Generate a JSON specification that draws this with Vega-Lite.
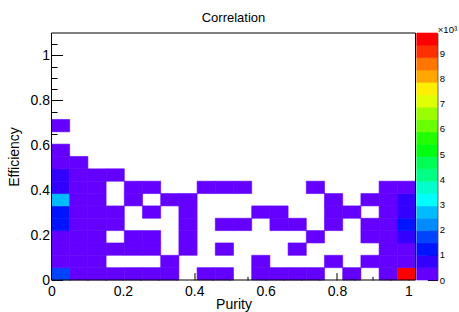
{
  "$schema": "https://vega.github.io/schema/vega-lite/v6.json",
  "width": 385.8,
  "height": 247,
  "autosize": {"type": "none"},
  "padding": {"left": 51.5, "top": 33, "right": 21.7, "bottom": 32},
  "background": "white",
  "config": {
    "view": {"stroke": null},
    "font": "Liberation Sans",
    "axis": {"labelFont": "Liberation Sans", "titleFont": "Liberation Sans", "labelColor": "black", "titleColor": "black", "tickColor": "black", "titleFontWeight": "normal", "grid": false}
  },
  "title": {"text": "Correlation", "font": "Liberation Sans", "fontSize": 13, "fontWeight": "normal", "color": "black", "anchor": "middle", "frame": "group", "dx": -10.9, "baseline": "alphabetic", "offset": -11},
  "datasets": {
    "cells": [
      {"p0": 0, "p1": 0.051, "e0": 0, "e1": 0.055, "n": 1700},
      {"p0": 0.051, "p1": 0.102, "e0": 0, "e1": 0.055, "n": 310},
      {"p0": 0.102, "p1": 0.153, "e0": 0, "e1": 0.055, "n": 180},
      {"p0": 0.153, "p1": 0.204, "e0": 0, "e1": 0.055, "n": 150},
      {"p0": 0.204, "p1": 0.255, "e0": 0, "e1": 0.055, "n": 120},
      {"p0": 0.255, "p1": 0.306, "e0": 0, "e1": 0.055, "n": 90},
      {"p0": 0.306, "p1": 0.357, "e0": 0, "e1": 0.055, "n": 60},
      {"p0": 0.408, "p1": 0.459, "e0": 0, "e1": 0.055, "n": 40},
      {"p0": 0.459, "p1": 0.51, "e0": 0, "e1": 0.055, "n": 30},
      {"p0": 0.561, "p1": 0.612, "e0": 0, "e1": 0.055, "n": 40},
      {"p0": 0.612, "p1": 0.663, "e0": 0, "e1": 0.055, "n": 60},
      {"p0": 0.663, "p1": 0.714, "e0": 0, "e1": 0.055, "n": 70},
      {"p0": 0.714, "p1": 0.765, "e0": 0, "e1": 0.055, "n": 60},
      {"p0": 0.816, "p1": 0.867, "e0": 0, "e1": 0.055, "n": 80},
      {"p0": 0.918, "p1": 0.969, "e0": 0, "e1": 0.055, "n": 220},
      {"p0": 0.969, "p1": 1.02, "e0": 0, "e1": 0.055, "n": 9805},

      {"p0": 0, "p1": 0.051, "e0": 0.055, "e1": 0.11, "n": 420},
      {"p0": 0.051, "p1": 0.102, "e0": 0.055, "e1": 0.11, "n": 260},
      {"p0": 0.102, "p1": 0.153, "e0": 0.055, "e1": 0.11, "n": 110},
      {"p0": 0.306, "p1": 0.357, "e0": 0.055, "e1": 0.11, "n": 30},
      {"p0": 0.561, "p1": 0.612, "e0": 0.055, "e1": 0.11, "n": 20},
      {"p0": 0.765, "p1": 0.816, "e0": 0.055, "e1": 0.11, "n": 30},
      {"p0": 0.867, "p1": 0.918, "e0": 0.055, "e1": 0.11, "n": 60},
      {"p0": 0.918, "p1": 0.969, "e0": 0.055, "e1": 0.11, "n": 150},
      {"p0": 0.969, "p1": 1.02, "e0": 0.055, "e1": 0.11, "n": 380},

      {"p0": 0, "p1": 0.051, "e0": 0.11, "e1": 0.165, "n": 400},
      {"p0": 0.051, "p1": 0.102, "e0": 0.11, "e1": 0.165, "n": 240},
      {"p0": 0.102, "p1": 0.153, "e0": 0.11, "e1": 0.165, "n": 130},
      {"p0": 0.153, "p1": 0.204, "e0": 0.11, "e1": 0.165, "n": 70},
      {"p0": 0.204, "p1": 0.255, "e0": 0.11, "e1": 0.165, "n": 50},
      {"p0": 0.255, "p1": 0.306, "e0": 0.11, "e1": 0.165, "n": 40},
      {"p0": 0.357, "p1": 0.408, "e0": 0.11, "e1": 0.165, "n": 20},
      {"p0": 0.459, "p1": 0.51, "e0": 0.11, "e1": 0.165, "n": 20},
      {"p0": 0.663, "p1": 0.714, "e0": 0.11, "e1": 0.165, "n": 30},
      {"p0": 0.918, "p1": 0.969, "e0": 0.11, "e1": 0.165, "n": 140},
      {"p0": 0.969, "p1": 1.02, "e0": 0.11, "e1": 0.165, "n": 360},

      {"p0": 0, "p1": 0.051, "e0": 0.165, "e1": 0.22, "n": 450},
      {"p0": 0.051, "p1": 0.102, "e0": 0.165, "e1": 0.22, "n": 230},
      {"p0": 0.102, "p1": 0.153, "e0": 0.165, "e1": 0.22, "n": 120},
      {"p0": 0.204, "p1": 0.255, "e0": 0.165, "e1": 0.22, "n": 50},
      {"p0": 0.255, "p1": 0.306, "e0": 0.165, "e1": 0.22, "n": 40},
      {"p0": 0.357, "p1": 0.408, "e0": 0.165, "e1": 0.22, "n": 30},
      {"p0": 0.714, "p1": 0.765, "e0": 0.165, "e1": 0.22, "n": 20},
      {"p0": 0.867, "p1": 0.918, "e0": 0.165, "e1": 0.22, "n": 70},
      {"p0": 0.918, "p1": 0.969, "e0": 0.165, "e1": 0.22, "n": 160},
      {"p0": 0.969, "p1": 1.02, "e0": 0.165, "e1": 0.22, "n": 700},

      {"p0": 0, "p1": 0.051, "e0": 0.22, "e1": 0.275, "n": 1200},
      {"p0": 0.051, "p1": 0.102, "e0": 0.22, "e1": 0.275, "n": 280},
      {"p0": 0.102, "p1": 0.153, "e0": 0.22, "e1": 0.275, "n": 130},
      {"p0": 0.153, "p1": 0.204, "e0": 0.22, "e1": 0.275, "n": 60},
      {"p0": 0.357, "p1": 0.408, "e0": 0.22, "e1": 0.275, "n": 30},
      {"p0": 0.459, "p1": 0.51, "e0": 0.22, "e1": 0.275, "n": 20},
      {"p0": 0.51, "p1": 0.561, "e0": 0.22, "e1": 0.275, "n": 20},
      {"p0": 0.612, "p1": 0.663, "e0": 0.22, "e1": 0.275, "n": 30},
      {"p0": 0.663, "p1": 0.714, "e0": 0.22, "e1": 0.275, "n": 30},
      {"p0": 0.765, "p1": 0.816, "e0": 0.22, "e1": 0.275, "n": 40},
      {"p0": 0.867, "p1": 0.918, "e0": 0.22, "e1": 0.275, "n": 80},
      {"p0": 0.918, "p1": 0.969, "e0": 0.22, "e1": 0.275, "n": 190},
      {"p0": 0.969, "p1": 1.02, "e0": 0.22, "e1": 0.275, "n": 1150},

      {"p0": 0, "p1": 0.051, "e0": 0.275, "e1": 0.33, "n": 1250},
      {"p0": 0.051, "p1": 0.102, "e0": 0.275, "e1": 0.33, "n": 300},
      {"p0": 0.102, "p1": 0.153, "e0": 0.275, "e1": 0.33, "n": 140},
      {"p0": 0.153, "p1": 0.204, "e0": 0.275, "e1": 0.33, "n": 60},
      {"p0": 0.255, "p1": 0.306, "e0": 0.275, "e1": 0.33, "n": 30},
      {"p0": 0.357, "p1": 0.408, "e0": 0.275, "e1": 0.33, "n": 20},
      {"p0": 0.561, "p1": 0.612, "e0": 0.275, "e1": 0.33, "n": 20},
      {"p0": 0.612, "p1": 0.663, "e0": 0.275, "e1": 0.33, "n": 30},
      {"p0": 0.765, "p1": 0.816, "e0": 0.275, "e1": 0.33, "n": 30},
      {"p0": 0.816, "p1": 0.867, "e0": 0.275, "e1": 0.33, "n": 40},
      {"p0": 0.918, "p1": 0.969, "e0": 0.275, "e1": 0.33, "n": 170},
      {"p0": 0.969, "p1": 1.02, "e0": 0.275, "e1": 0.33, "n": 760},

      {"p0": 0, "p1": 0.051, "e0": 0.33, "e1": 0.385, "n": 2700},
      {"p0": 0.051, "p1": 0.102, "e0": 0.33, "e1": 0.385, "n": 290},
      {"p0": 0.102, "p1": 0.153, "e0": 0.33, "e1": 0.385, "n": 120},
      {"p0": 0.204, "p1": 0.255, "e0": 0.33, "e1": 0.385, "n": 40},
      {"p0": 0.306, "p1": 0.357, "e0": 0.33, "e1": 0.385, "n": 30},
      {"p0": 0.357, "p1": 0.408, "e0": 0.33, "e1": 0.385, "n": 20},
      {"p0": 0.765, "p1": 0.816, "e0": 0.33, "e1": 0.385, "n": 20},
      {"p0": 0.867, "p1": 0.918, "e0": 0.33, "e1": 0.385, "n": 50},
      {"p0": 0.918, "p1": 0.969, "e0": 0.33, "e1": 0.385, "n": 150},
      {"p0": 0.969, "p1": 1.02, "e0": 0.33, "e1": 0.385, "n": 620},

      {"p0": 0, "p1": 0.051, "e0": 0.385, "e1": 0.44, "n": 800},
      {"p0": 0.051, "p1": 0.102, "e0": 0.385, "e1": 0.44, "n": 260},
      {"p0": 0.102, "p1": 0.153, "e0": 0.385, "e1": 0.44, "n": 100},
      {"p0": 0.204, "p1": 0.255, "e0": 0.385, "e1": 0.44, "n": 40},
      {"p0": 0.255, "p1": 0.306, "e0": 0.385, "e1": 0.44, "n": 30},
      {"p0": 0.408, "p1": 0.459, "e0": 0.385, "e1": 0.44, "n": 20},
      {"p0": 0.459, "p1": 0.51, "e0": 0.385, "e1": 0.44, "n": 20},
      {"p0": 0.51, "p1": 0.561, "e0": 0.385, "e1": 0.44, "n": 20},
      {"p0": 0.714, "p1": 0.765, "e0": 0.385, "e1": 0.44, "n": 20},
      {"p0": 0.918, "p1": 0.969, "e0": 0.385, "e1": 0.44, "n": 90},
      {"p0": 0.969, "p1": 1.02, "e0": 0.385, "e1": 0.44, "n": 300},

      {"p0": 0, "p1": 0.051, "e0": 0.44, "e1": 0.495, "n": 720},
      {"p0": 0.051, "p1": 0.102, "e0": 0.44, "e1": 0.495, "n": 200},
      {"p0": 0.102, "p1": 0.153, "e0": 0.44, "e1": 0.495, "n": 80},
      {"p0": 0.153, "p1": 0.204, "e0": 0.44, "e1": 0.495, "n": 30},

      {"p0": 0, "p1": 0.051, "e0": 0.495, "e1": 0.55, "n": 350},
      {"p0": 0.051, "p1": 0.102, "e0": 0.495, "e1": 0.55, "n": 90},

      {"p0": 0, "p1": 0.051, "e0": 0.55, "e1": 0.605, "n": 160},

      {"p0": 0, "p1": 0.051, "e0": 0.66, "e1": 0.715, "n": 40}
    ],
    "levels": [
      {"lo": 0, "hi": 490.25},
      {"lo": 490.25, "hi": 980.5},
      {"lo": 980.5, "hi": 1470.75},
      {"lo": 1470.75, "hi": 1961},
      {"lo": 1961, "hi": 2451.25},
      {"lo": 2451.25, "hi": 2941.5},
      {"lo": 2941.5, "hi": 3431.75},
      {"lo": 3431.75, "hi": 3922},
      {"lo": 3922, "hi": 4412.25},
      {"lo": 4412.25, "hi": 4902.5},
      {"lo": 4902.5, "hi": 5392.75},
      {"lo": 5392.75, "hi": 5883},
      {"lo": 5883, "hi": 6373.25},
      {"lo": 6373.25, "hi": 6863.5},
      {"lo": 6863.5, "hi": 7353.75},
      {"lo": 7353.75, "hi": 7844},
      {"lo": 7844, "hi": 8334.25},
      {"lo": 8334.25, "hi": 8824.5},
      {"lo": 8824.5, "hi": 9314.75},
      {"lo": 9314.75, "hi": 9805}
    ],
    "one": [{"id": 1}]
  },
  "resolve": {
    "scale": {"x": "independent", "y": "independent"},
    "axis": {"x": "independent", "y": "independent"}
  },
  "layer": [
    {
      "data": {"name": "cells"},
      "mark": {"type": "rect", "strokeWidth": 0.6},
      "encoding": {
        "x": {"field": "p0", "type": "quantitative",
          "scale": {"domain": [0, 1.02], "range": [0, 364], "nice": false, "zero": false},
          "axis": {"orient": "bottom", "values": [0, 0.2, 0.4, 0.6, 0.8, 1], "format": "~g", "tickSize": -7.4, "tickWidth": 1, "domain": false, "labelFontSize": 14, "labelPadding": 11.4, "labelFlush": false, "labelAlign": "center", "labelBaseline": "top",
            "title": "Purity", "titleFontSize": 14, "titleX": 182, "titleY": 28.3, "titleAlign": "center", "titleBaseline": "alphabetic", "titleAngle": 0}},
        "x2": {"field": "p1"},
        "y": {"field": "e0", "type": "quantitative",
          "scale": {"domain": [0, 1.1], "nice": false, "zero": false},
          "axis": {"orient": "left", "values": [0, 0.2, 0.4, 0.6, 0.8, 1], "format": "~g", "tickSize": -11, "tickWidth": 1, "domain": false, "labelFontSize": 14, "labelPadding": 13, "labelFlush": false, "labelAlign": "right", "labelBaseline": "middle",
            "title": "Efficiency", "titleFontSize": 14, "titleX": -33, "titleY": 123.5, "titleAlign": "center", "titleBaseline": "alphabetic", "titleAngle": -90}},
        "y2": {"field": "e1"},
        "color": {"field": "n", "type": "quantitative", "legend": null,
          "scale": {"type": "threshold",
            "domain": [490.25, 980.5, 1470.75, 1961, 2451.25, 2941.5, 3431.75, 3922, 4412.25, 4902.5, 5392.75, 5883, 6373.25, 6863.5, 7353.75, 7844, 8334.25, 8824.5, 9314.75],
            "range": ["#6300ff", "#3300ff", "#0014ff", "#0044ff", "#008bff", "#00bbff", "#00fffc", "#00ffcc", "#00ff85", "#00ff55", "#00ff0e", "#22ff00", "#69ff00", "#99ff00", "#e0ff00", "#ffee00", "#ffa700", "#ff7700", "#ff3000", "#ff0000"]}},
        "stroke": {"field": "n", "type": "quantitative", "legend": null,
          "scale": {"type": "threshold",
            "domain": [490.25, 980.5, 1470.75, 1961, 2451.25, 2941.5, 3431.75, 3922, 4412.25, 4902.5, 5392.75, 5883, 6373.25, 6863.5, 7353.75, 7844, 8334.25, 8824.5, 9314.75],
            "range": ["#6300ff", "#3300ff", "#0014ff", "#0044ff", "#008bff", "#00bbff", "#00fffc", "#00ffcc", "#00ff85", "#00ff55", "#00ff0e", "#22ff00", "#69ff00", "#99ff00", "#e0ff00", "#ffee00", "#ffa700", "#ff7700", "#ff3000", "#ff0000"]}}
      }
    },
    {
      "data": {"name": "cells"},
      "mark": {"type": "point", "opacity": 0, "size": 0},
      "encoding": {
        "x": {"field": "p0", "type": "quantitative",
          "scale": {"domain": [0, 1.02], "range": [0, 364], "nice": false, "zero": false},
          "axis": {"orient": "bottom", "values": [0.05, 0.1, 0.15, 0.25, 0.3, 0.35, 0.45, 0.5, 0.55, 0.65, 0.7, 0.75, 0.85, 0.9, 0.95], "tickSize": -3.7, "tickWidth": 1, "domain": false, "labels": false, "title": null}},
        "y": {"field": "e0", "type": "quantitative",
          "scale": {"domain": [0, 1.1], "nice": false, "zero": false},
          "axis": {"orient": "left", "values": [0.05, 0.1, 0.15, 0.25, 0.3, 0.35, 0.45, 0.5, 0.55, 0.65, 0.7, 0.75, 0.85, 0.9, 0.95, 1.05], "tickSize": -5.5, "tickWidth": 1, "domain": false, "labels": false, "title": null}}
      }
    },
    {
      "data": {"name": "one"},
      "mark": {"type": "rect", "filled": false, "stroke": "black", "strokeWidth": 1},
      "encoding": {
        "x": {"datum": 0, "type": "quantitative", "scale": {"domain": [0, 1.02], "range": [0, 364], "nice": false, "zero": false}, "axis": null},
        "x2": {"datum": 1.02},
        "y": {"datum": 0, "type": "quantitative", "scale": {"domain": [0, 1.1], "nice": false, "zero": false}, "axis": null},
        "y2": {"datum": 1.1}
      }
    },
    {
      "data": {"name": "levels"},
      "mark": {"type": "rect", "strokeWidth": 0.6},
      "encoding": {
        "x": {"datum": 0, "type": "quantitative", "scale": {"domain": [0, 1], "range": [365.2, 385.8], "nice": false, "zero": false}, "axis": null},
        "x2": {"datum": 1},
        "y": {"field": "lo", "type": "quantitative",
          "scale": {"domain": [0, 9805], "nice": false, "zero": false},
          "axis": {"orient": "right", "values": [0, 1000, 2000, 3000, 4000, 5000, 6000, 7000, 8000, 9000], "labelExpr": "datum.value / 1000", "tickSize": -10, "tickWidth": 1, "domain": true, "domainColor": "black", "domainWidth": 1, "labelFontSize": 9.5, "labelPadding": 12, "labelFlush": false, "labelAlign": "left", "labelBaseline": "middle",
            "title": "×10³", "titleFontSize": 9.5, "titleAngle": 0, "titleX": 0, "titleY": -1, "titleAlign": "left", "titleBaseline": "alphabetic"}},
        "y2": {"field": "hi"},
        "color": {"field": "lo", "type": "quantitative", "legend": null,
          "scale": {"type": "threshold",
            "domain": [490.25, 980.5, 1470.75, 1961, 2451.25, 2941.5, 3431.75, 3922, 4412.25, 4902.5, 5392.75, 5883, 6373.25, 6863.5, 7353.75, 7844, 8334.25, 8824.5, 9314.75],
            "range": ["#6300ff", "#3300ff", "#0014ff", "#0044ff", "#008bff", "#00bbff", "#00fffc", "#00ffcc", "#00ff85", "#00ff55", "#00ff0e", "#22ff00", "#69ff00", "#99ff00", "#e0ff00", "#ffee00", "#ffa700", "#ff7700", "#ff3000", "#ff0000"]}},
        "stroke": {"field": "lo", "type": "quantitative", "legend": null,
          "scale": {"type": "threshold",
            "domain": [490.25, 980.5, 1470.75, 1961, 2451.25, 2941.5, 3431.75, 3922, 4412.25, 4902.5, 5392.75, 5883, 6373.25, 6863.5, 7353.75, 7844, 8334.25, 8824.5, 9314.75],
            "range": ["#6300ff", "#3300ff", "#0014ff", "#0044ff", "#008bff", "#00bbff", "#00fffc", "#00ffcc", "#00ff85", "#00ff55", "#00ff0e", "#22ff00", "#69ff00", "#99ff00", "#e0ff00", "#ffee00", "#ffa700", "#ff7700", "#ff3000", "#ff0000"]}}
      }
    }
  ]
}
